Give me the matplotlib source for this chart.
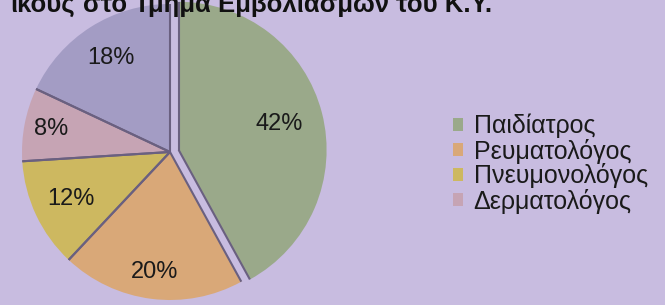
import numpy as np
import matplotlib
matplotlib.use("Agg")
import matplotlib.pyplot as plt
from matplotlib.patches import Patch

# data
categories = ["Παιδίατρος", "Ρευματολόγος", "Πνευμονολόγος", "Δερματολόγος", "Λοιποί"]
shares = [42, 20, 12, 8, 18]
legend_count = 4  # only four entries are visible in the legend
colors = ["#9aa98a", "#d9a878", "#cdb860", "#c6a4b4", "#a39cc4"]
explode = [0.06, 0.0, 0.0, 0.0, 0.0]
label_dist = [0.70, 0.82, 0.74, 0.82, 0.75]
title_head = "ικούς"
title_tail = "στο Τμήμα Εμβολιασμών του Κ.Υ."

BG = "#c8bce0"
plt.rcParams["font.family"] = ["Liberation Sans", "DejaVu Sans"]

fig = plt.figure(figsize=(6.65, 3.05), dpi=100, facecolor=BG)

# pie axes: centre ~(170, 152) px, radius ~148 px
R = 148
half = R * 1.1
ax = fig.add_axes([(170 - half) / 665, (153 - half) / 305, 2 * half / 665, 2 * half / 305])
ax.set_facecolor(BG)

wedges, texts = ax.pie(
    shares, colors=colors, explode=explode, startangle=90, counterclock=False,
    wedgeprops=dict(linewidth=0),
)

# dark seams along the radial edges, percentage labels inside each slice
for w, share, d in zip(wedges, shares, label_dist):
    w.set_clip_on(False)
    cx, cy = w.center
    for th in (w.theta1, w.theta2):
        t = np.deg2rad(th)
        ax.plot([cx, cx + np.cos(t)], [cy, cy + np.sin(t)], color="#6a6080",
                lw=1.5, solid_capstyle="butt", clip_on=False)
    mid = np.deg2rad((w.theta1 + w.theta2) / 2)
    ax.text(cx + d * np.cos(mid), cy + d * np.sin(mid), f"{share}%",
            ha="center", va="center", fontsize=17, color="#1a1a1a")

ax.set_xlim(-1.1, 1.1)
ax.set_ylim(-1.1, 1.1)
ax.set_aspect("auto")
ax.axis("off")

# title, partly cut off at the top of the image
ty = (305 - 12) / 305
fig.text(75 / 665, ty, title_head, ha="right", va="baseline",
         fontsize=18.5, fontweight="bold", color="#111111")
fig.text(83 / 665, ty, title_tail, ha="left", va="baseline",
         fontsize=18.5, fontweight="bold", color="#111111")

handles = [Patch(facecolor=c, edgecolor="none") for c in colors[:legend_count]]
fig.legend(handles, categories[:legend_count], loc="upper left",
           bbox_to_anchor=(443 / 665, 1 - 104 / 305), frameon=False,
           fontsize=18, handlelength=0.38, handleheight=0.38, handletextpad=0.45,
           labelspacing=0.0, borderaxespad=0, labelcolor="#1a1a1a")

fig.savefig("out.png", dpi=100, facecolor=BG)
